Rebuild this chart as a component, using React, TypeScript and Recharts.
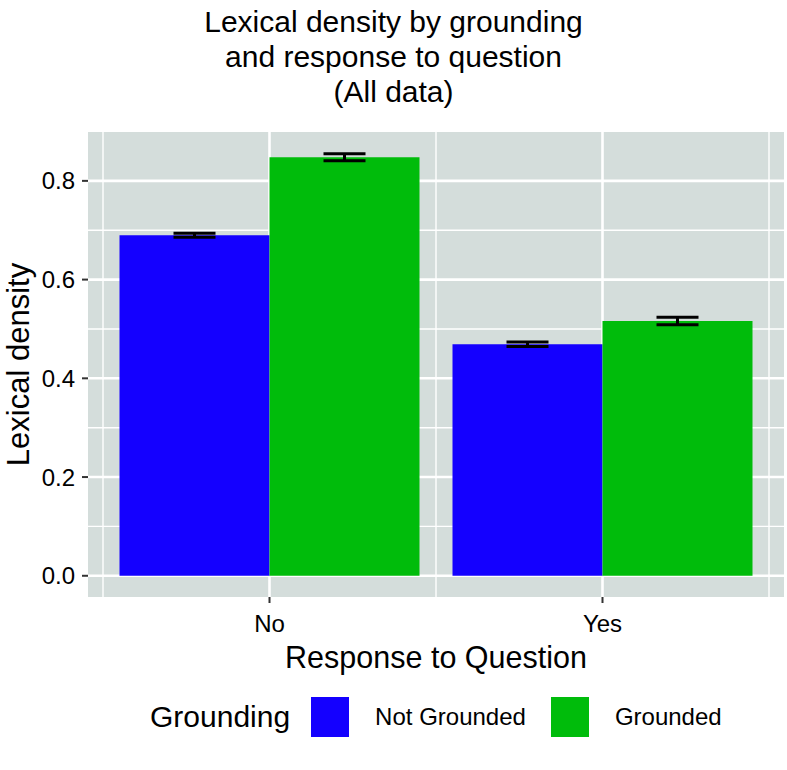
import { BarChart, Bar, XAxis, YAxis, CartesianGrid, ErrorBar, Legend } from "recharts";

const categories = ["No", "Yes"];
const categoryPos = [1, 2];
const notGrounded = [0.69, 0.469];
const notGroundedErr = [0.004, 0.0045];
const grounded = [0.848, 0.516];
const groundedErr = [0.007, 0.0075];

const seriesNames = ["Not Grounded", "Grounded"];
const seriesColors = ["#1400FF", "#00BC0B"];

const yTicks = [0, 0.2, 0.4, 0.6, 0.8];
const yMinor = [0.1, 0.3, 0.5, 0.7];
const xMinor = [0.5, 1.5, 2.5];

const data = categories.map((c, i) => ({
  response: c,
  pos: categoryPos[i],
  notGrounded: notGrounded[i],
  notGroundedErr: notGroundedErr[i],
  grounded: grounded[i],
  groundedErr: groundedErr[i],
}));

const FONT = "'Liberation Sans', Arial, Helvetica, sans-serif";
const W = 787;
const H = 770;
const PANEL = { left: 88, top: 132, right: 784, bottom: 597 };
const X_PAD = 15;
const bandW = (PANEL.right - PANEL.left - 2 * X_PAD) / categories.length;
const edge = (X_PAD + bandW / 2) / bandW;

function GroundingLegend({ payload }: any) {
  const items = [...(payload ?? [])].sort(
    (a: any, b: any) => seriesNames.indexOf(a.value) - seriesNames.indexOf(b.value)
  );
  return (
    <div style={{ display: "flex", alignItems: "center", paddingLeft: 150, fontFamily: FONT, color: "#000" }}>
      <span style={{ fontSize: 30, marginRight: 21 }}>Grounding</span>
      {items.map((p: any) => (
        <div key={p.value} style={{ display: "flex", alignItems: "center", marginRight: 25 }}>
          <span style={{ display: "inline-block", width: 38, height: 40, background: p.color, marginRight: 26 }} />
          <span style={{ fontSize: 24 }}>{p.value}</span>
        </div>
      ))}
    </div>
  );
}

export default function App() {
  return (
    <div style={{ position: "absolute", left: 0, top: 0, width: W, height: H, background: "#fff", fontFamily: FONT }}>
      <div
        style={{
          position: "absolute",
          top: 4,
          left: 0,
          width: W,
          textAlign: "center",
          fontSize: 30,
          lineHeight: "35px",
          color: "#000",
          zIndex: 2,
        }}
      >
        Lexical density by grounding
        <br />
        and response to question
        <br />
        (All data)
      </div>
      <BarChart
        width={W}
        height={H}
        data={data}
        margin={{ top: PANEL.top, right: W - PANEL.right, left: 28, bottom: 93 }}
        barCategoryGap={16.5}
        barGap={0}
        style={{ fontFamily: FONT }}
      >
        {/* minor grid + panel background */}
        <CartesianGrid
          xAxisId="grid"
          fill="#D4DDDB"
          stroke="#fff"
          strokeWidth={1.4}
          horizontalValues={yMinor}
          verticalValues={xMinor}
        />
        {/* major grid */}
        <CartesianGrid
          xAxisId="grid"
          stroke="#fff"
          strokeWidth={2.6}
          horizontalValues={yTicks}
          verticalValues={categoryPos}
        />
        <XAxis
          dataKey="response"
          height={80}
          padding={{ left: X_PAD, right: X_PAD }}
          axisLine={false}
          tickSize={6}
          tickMargin={12}
          tickLine={{ stroke: "#333", strokeWidth: 2 }}
          tick={{ fontSize: 24, fill: "#000" }}
          label={{ value: "Response to Question", position: "insideBottom", offset: 9, fontSize: 30.5, fill: "#000" }}
        />
        <XAxis
          xAxisId="grid"
          dataKey="pos"
          type="number"
          hide
          domain={[1 - edge, categories.length + edge]}
          allowDataOverflow
        />
        <YAxis
          width={60}
          domain={[-0.043, 0.899]}
          ticks={yTicks}
          allowDataOverflow
          axisLine={false}
          tickSize={6}
          tickMargin={7}
          tickLine={{ stroke: "#333", strokeWidth: 2 }}
          tick={{ fontSize: 24, fill: "#000" }}
          tickFormatter={(v: number) => v.toFixed(1)}
          label={{
            value: "Lexical density",
            angle: -90,
            position: "left",
            offset: 10,
            fontSize: 31,
            fill: "#000",
            style: { textAnchor: "middle" },
          }}
        />
        <Legend
          layout="horizontal"
          verticalAlign="middle"
          align="center"
          content={<GroundingLegend />}
          wrapperStyle={{ position: "absolute", left: 0, top: 697, width: W }}
        />
        <Bar dataKey="notGrounded" name={seriesNames[0]} fill={seriesColors[0]} isAnimationActive={false}>
          <ErrorBar dataKey="notGroundedErr" width={21} stroke="#000" strokeWidth={3} />
        </Bar>
        <Bar dataKey="grounded" name={seriesNames[1]} fill={seriesColors[1]} isAnimationActive={false}>
          <ErrorBar dataKey="groundedErr" width={21} stroke="#000" strokeWidth={3} />
        </Bar>
      </BarChart>
    </div>
  );
}
